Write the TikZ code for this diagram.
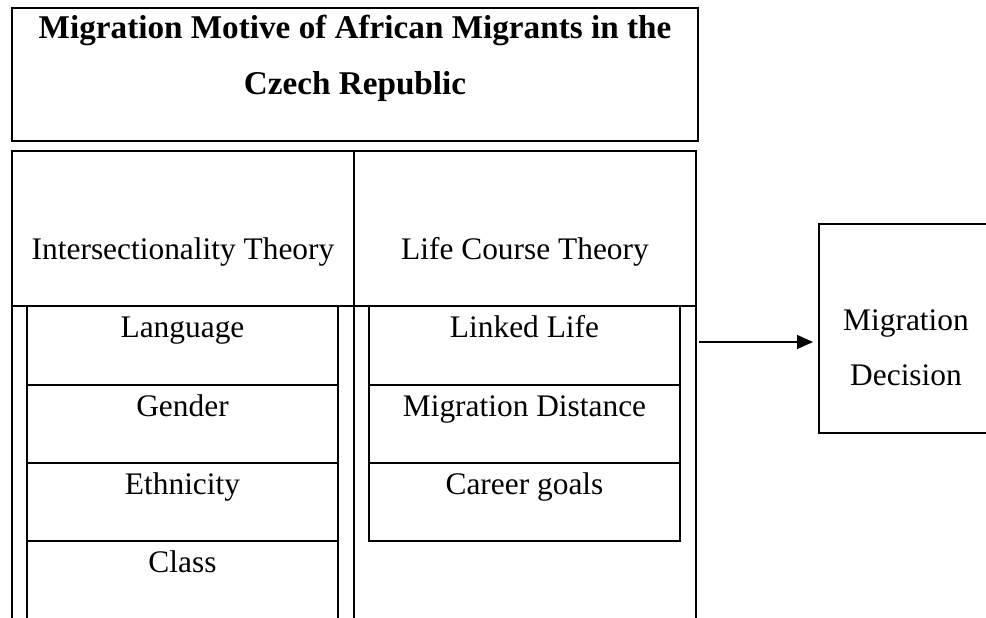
\documentclass[tikz,border=0pt]{standalone}
\usepackage{fontspec}
\setmainfont{Liberation Serif}
\usetikzlibrary{arrows.meta}

\begin{document}
\begin{tikzpicture}[x=0.5pt,y=-0.5pt,
        frame/.style={line width=1pt},
        txt/.style={anchor=base,inner sep=0pt,font=\fontsize{15.7}{19}\selectfont},
        ttl/.style={anchor=base,inner sep=0pt,font=\bfseries\fontsize{16.6}{19}\selectfont}]
        \useasboundingbox (0,0) rectangle (986,617);

        % Titulo
        \draw[line width=1.1pt] (12,8) rectangle (698,141);
        \node[ttl] (title1) at (355,38) {Migration Motive of African Migrants in the};
        \node[ttl] (title2) at (355,94) {Czech Republic};

        % Marco de las teorias, abierto por abajo
        \draw[frame] (12,620) -- (12,151) -- (696,151) -- (696,620);
        \draw[frame] (354,151) -- (354,620);
        \draw[frame] (12,306) -- (696,306);
        \node[txt] (inter) at (183,259) {Intersectionality Theory};
        \node[txt] (life) at (525,259) {Life Course Theory};

        % Columna izquierda
        \draw[frame] (27,620) -- (27,306) (338,306) -- (338,620);
        \foreach \y in {385,463,541}
        \draw[frame] (27,\y) -- (338,\y);
        \foreach \y/\txt [count=\i] in {306/Language,385/Gender,463/Ethnicity,541/Class}
        \node[txt] (int\i) at (182.5,\y+31) {\txt};

        % Columna derecha
        \draw[frame] (369,306) rectangle (680,541);
        \foreach \y in {385,463}
        \draw[frame] (369,\y) -- (680,\y);
        \foreach \y/\txt [count=\i] in {306/Linked Life,385/Migration Distance,463/Career goals}
        \node[txt] (lct\i) at (524.5,\y+31) {\txt};

        % Decision
        \node[draw,frame,anchor=north west,minimum width=88pt,minimum height=104.5pt] (decision) at (818,223) {};
        \node[txt] (dec1) at (906,330) {Migration};
        \node[txt] (dec2) at (906,385) {Decision};

        % Flecha
        \coordinate (start) at (699,342);
        \draw[line width=0.7pt,-{Triangle[length=8pt,width=7pt]},shorten >=2.5pt] (start) -- (start -| decision.west);
    \end{tikzpicture}
\end{document}
